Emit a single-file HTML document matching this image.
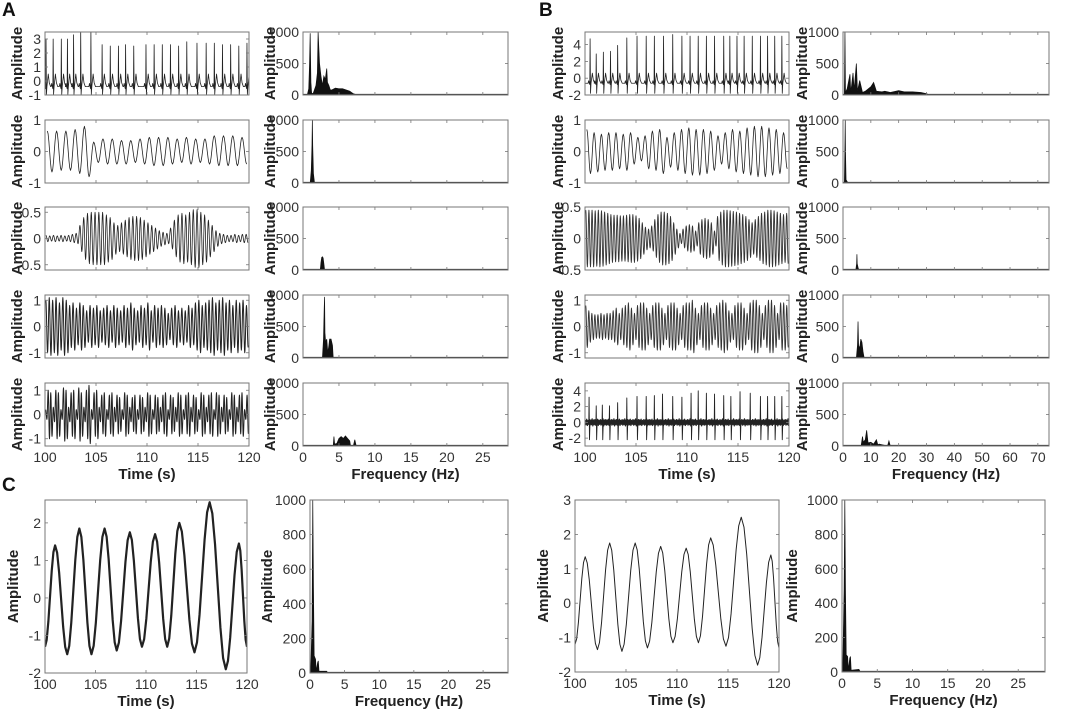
<!DOCTYPE html>
<html><head><meta charset="utf-8"><style>
body{margin:0;background:#fff;}
svg{display:block;font-family:"Liberation Sans",Arial,sans-serif;}
.tk{font-size:14px;fill:#333;}
.yl{font-size:15px;font-weight:bold;fill:#222;}
.xl{font-size:15px;font-weight:bold;fill:#222;}
.pl{font-size:19px;font-weight:bold;fill:#111;}
</style></head><body>
<svg id="fig" width="1065" height="715" viewBox="0 0 1065 715" xmlns="http://www.w3.org/2000/svg">
<text class="pl" x="2" y="16">A</text>
<text class="pl" x="539" y="16">B</text>
<text class="pl" x="2" y="491">C</text>
</svg>
<script>
// ---- data ----
const a1BeatTimes=[100.1,100.8,101.6,102.2,102.8,103.5,104.5,105.6,106.4,107.2,107.9,108.7,109.9,110.7,111.5,112.3,113.1,113.9,114.9,115.8,116.6,117.4,118.2,119.0,119.8];
const a1BeatHeights=[3,3,3,3,3.3,3.5,3.5,2.6,2.5,2.5,2.6,2.5,2.6,2.6,2.6,2.6,2.5,2.8,2.7,2.7,2.7,2.6,2.6,2.5,2.7];
const a2Peaks=[0.65,0.65,0.65,0.7,0.8,0.3,0.4,0.4,0.35,0.35,0.4,0.45,0.45,0.45,0.4,0.45,0.4,0.4,0.5,0.5,0.5,0.45];
const a2Troughs=[-0.65,-0.6,-0.6,-0.7,-0.8,-0.35,-0.4,-0.4,-0.4,-0.35,-0.4,-0.45,-0.45,-0.4,-0.35,-0.4,-0.35,-0.4,-0.45,-0.45,-0.45,-0.4];
const a3Env=[0.06,0.05,0.06,0.05,0.06,0.05,0.06,0.08,0.1,0.25,0.4,0.48,0.5,0.5,0.5,0.5,0.45,0.4,0.3,0.25,0.3,0.35,0.4,0.42,0.42,0.4,0.35,0.3,0.25,0.2,0.15,0.12,0.1,0.2,0.35,0.45,0.48,0.45,0.5,0.55,0.55,0.5,0.45,0.35,0.25,0.15,0.1,0.08,0.06,0.06,0.08,0.06,0.08,0.08];
const a4Env=[1.0,1.1,1.0,1.1,0.9,1.1,1.0,0.8,0.9,0.7,0.9,0.8,0.6,0.8,0.7,0.8,0.6,0.7,0.8,0.6,0.8,0.7,0.6,0.8,0.7,0.9,0.7,0.6,0.8,0.7,0.9,0.6,0.8,0.7,0.8,0.7,0.5,0.7,0.8,0.6,0.7,0.6,0.8,0.7,0.9,1.0,0.8,0.9,1.0,1.1,0.9,1.0,1.1,0.9,1.0,0.8,1.0,0.9,1.0,0.8];
const a5Env=[0.2,1.0,0.9,0.3,1.0,0.9,0.2,1.1,1.0,0.3,0.9,1.0,0.2,1.1,0.9,0.3,1.0,1.2,0.2,0.9,1.0,0.3,0.8,0.9,0.2,0.8,0.9,0.3,0.8,0.7,0.2,0.9,0.8,0.3,0.7,0.8,0.2,0.8,0.7,0.3,0.9,0.8,0.2,0.8,0.7,0.3,0.8,0.9,0.2,0.8,0.7,0.3,0.9,0.8,0.2,0.8,0.9,0.3,0.8,0.7,0.2,0.9,0.8,0.3,0.8,0.9,0.2,0.9,0.8,0.3,0.8,0.7,0.2,0.9,0.8,0.3,0.8,0.9,0.2,0.8];
const b1BeatTimes=[100.5,101.1,101.8,102.5,103.2,104.1,105.1,106.0,106.8,107.7,108.6,109.5,110.3,111.1,111.9,112.7,113.6,114.2,114.9,115.6,116.4,117.2,117.9,118.6,119.3];
const b1BeatHeights=[4.7,2.9,3.1,3.2,3.9,4.8,5,5,5,5,5.2,5,5,5,5,5,5,5,5,5,5,5,5,5,5];
const b2Peaks=[0.7,0.6,0.55,0.6,0.6,0.55,0.6,0.45,0.5,0.65,0.7,0.45,0.6,0.7,0.75,0.7,0.7,0.65,0.5,0.6,0.7,0.65,0.75,0.8,0.8,0.75,0.7,0.6];
const b2Troughs=[-0.7,-0.65,-0.6,-0.6,-0.55,-0.6,-0.4,-0.3,-0.55,-0.6,-0.7,-0.5,-0.6,-0.7,-0.75,-0.75,-0.7,-0.6,-0.4,-0.55,-0.65,-0.7,-0.75,-0.8,-0.8,-0.75,-0.7,-0.55];
const b3Env=[0.45,0.45,0.45,0.44,0.45,0.44,0.42,0.4,0.38,0.37,0.37,0.36,0.36,0.37,0.38,0.38,0.36,0.32,0.25,0.18,0.15,0.2,0.3,0.38,0.42,0.42,0.4,0.35,0.25,0.15,0.08,0.15,0.2,0.22,0.2,0.12,0.25,0.3,0.32,0.3,0.25,0.12,0.35,0.42,0.45,0.45,0.44,0.43,0.42,0.4,0.38,0.35,0.3,0.25,0.3,0.35,0.4,0.42,0.45,0.45,0.44,0.42,0.4,0.38,0.4];
const b4Env=[0.8,0.6,0.5,0.45,0.45,0.5,0.45,0.5,0.5,0.6,0.7,0.5,0.7,0.8,0.9,0.7,0.5,0.8,0.9,0.9,0.7,0.5,0.8,0.9,0.9,0.7,0.5,0.8,0.9,0.9,0.7,0.5,0.8,0.9,0.9,1.0,0.7,0.5,0.8,0.9,0.9,0.7,0.5,0.8,0.9,1.0,0.9,0.6,0.5,0.8,0.9,0.9,0.7,0.5,0.9,1.0,1.0,0.8,0.5,0.8,1.0,1.0,0.8,0.5,0.9,0.9,0.8];
const b5BeatTimes=[100.4,101.1,101.7,102.4,103.2,104.1,105.1,106.0,106.8,107.6,108.6,109.5,110.4,111.1,111.9,112.7,113.6,114.3,115.2,116.2,117.2,117.9,118.6,119.3];
const b5BeatHeights=[3.2,2.1,2.2,2.1,2.5,3.1,3.3,3.3,3.4,3.6,3.3,3.2,3.7,4,3.7,3.6,3.4,3.3,3.9,3.7,3.3,3.3,3.3,3.3];
const b5NoiseAmp=[0.3,0.4,0.25,0.35,0.3,0.45,0.3,0.35];
const c1PeakTimes=[100,101.0,102.2,103.4,104.6,105.9,107.1,108.4,109.6,110.9,112.1,113.3,114.8,116.3,117.9,119.2,120];
const c1Values=[-1.3,1.4,-1.5,1.85,-1.5,1.85,-1.4,1.75,-1.3,1.7,-1.3,2.0,-1.45,2.55,-1.9,1.45,-1.3];
const c3Values=[-1.2,1.35,-1.35,1.75,-1.4,1.75,-1.3,1.65,-1.15,1.6,-1.15,1.9,-1.25,2.5,-1.8,1.4,-1.3];
const a1SpecF=[0.6,0.8,0.9,1.0,1.1,1.2,1.4,1.8,2.0,2.1,2.2,2.3,2.5,2.7,2.9,3.1,3.3,3.4,3.6,3.8,4.0,4.5,5.0,5.5,6.0,6.5,7.0,7.5];
const a1SpecA=[0,100,450,980,200,30,20,150,350,1000,750,500,300,150,300,250,420,200,150,80,80,110,100,100,80,60,20,0];
const a2SpecF=[1.0,1.15,1.25,1.3,1.35,1.45,1.6];
const a2SpecA=[0,200,600,1000,600,150,0];
const a3SpecF=[2.4,2.5,2.6,2.7,2.8,2.9,3.0];
const a3SpecA=[0,120,200,210,190,100,0];
const a4SpecF=[2.7,2.85,2.95,3.0,3.05,3.15,3.3,3.45,3.6,3.7,3.9,4.1,4.2];
const a4SpecA=[0,300,800,970,400,250,300,80,200,300,300,200,0];
const a5SpecF=[4.2,4.3,4.4,4.7,5.0,5.3,5.6,5.9,6.2,6.5,6.6,7.0,7.2,7.4];
const a5SpecA=[0,150,30,40,120,150,120,160,120,80,10,0,100,0];
const b1SpecF=[0.5,0.7,0.9,1.5,2.5,2.8,3.6,4.0,4.8,5.2,6.0,7.0,8.0,10,11,12,14,15,17,20,22,25,28,30,31];
const b1SpecA=[0,1000,40,100,330,40,350,80,500,60,230,40,60,130,200,60,50,60,40,70,50,50,40,20,0];
const b2SpecF=[0.5,0.7,0.8,0.9,1.1,1.5,2.0];
const b2SpecA=[0,600,1000,500,50,20,0];
const b3SpecF=[4.6,4.9,5.0,5.1,5.5,6.0];
const b3SpecA=[0,100,250,100,20,0];
const b4SpecF=[4.8,5.2,5.4,5.6,6.0,6.4,6.8,7.2,7.6];
const b4SpecA=[0,200,580,200,150,300,250,100,0];
const b5SpecF=[6.5,7.0,7.3,8.0,8.5,9.0,10,11,12,12.5,13,16,16.5,17];
const b5SpecA=[0,150,60,100,250,50,60,30,100,20,30,0,80,0];
const c2SpecF=[0.1,0.3,0.4,0.5,0.6,0.8,0.9,1.1,1.2,1.3,2.4,2.6];
const c2SpecA=[0,300,1000,500,100,80,10,60,70,10,10,0];
const c4SpecF=[0.1,0.3,0.4,0.5,0.6,0.8,0.9,1.1,1.2,1.3,2.4,2.6];
const c4SpecA=[0,480,1000,450,100,90,10,80,90,10,15,0];

// ---- drawing ----
const NS="http://www.w3.org/2000/svg";
const svg=document.getElementById('fig');
function el(tag,attrs,parent){const e=document.createElementNS(NS,tag);for(const k in attrs)e.setAttribute(k,attrs[k]);(parent||svg).appendChild(e);return e;}
function makeAxes(p){
  const g=el('g',{});
  
  
  p.sx=v=>p.x0+(v-p.xmin)/(p.xmax-p.xmin)*(p.x1-p.x0);
  p.sy=v=>p.y1-(v-p.ymin)/(p.ymax-p.ymin)*(p.y1-p.y0);
  const cid='c'+p.name;
  const cp=el('clipPath',{id:cid},g);el('rect',{x:p.x0,y:p.y0,width:p.x1-p.x0,height:p.y1-p.y0},cp);
  p.g=el('g',{'clip-path':'url(#'+cid+')'},g);
  const ax=el('g',{},g);
  p.xticks.forEach(t=>{const x=p.sx(t);
    el('line',{x1:x,x2:x,y1:p.y1,y2:p.y1-3,stroke:'#777','stroke-width':0.8},ax);
    el('line',{x1:x,x2:x,y1:p.y0,y2:p.y0+3,stroke:'#777','stroke-width':0.8},ax);
    if(p.xlab){const t2=el('text',{class:'tk',x:x,y:p.y1+16,'text-anchor':'middle'},ax);t2.textContent=t;
      
      }
  });
  p.yticks.forEach(t=>{const y=p.sy(t);
    el('line',{x1:p.x0,x2:p.x0+3,y1:y,y2:y,stroke:'#777','stroke-width':0.8},ax);
    el('line',{x1:p.x1,x2:p.x1-3,y1:y,y2:y,stroke:'#777','stroke-width':0.8},ax);
    const t2=el('text',{class:'tk',x:p.x0-4,y:y+5,'text-anchor':'end'},ax);t2.textContent=t;
    
    
  });
  el('rect',{x:p.x0,y:p.y0,width:p.x1-p.x0,height:p.y1-p.y0,fill:'none',stroke:'#777','stroke-width':1},ax);
  const yc=(p.y0+p.y1)/2;
  const yl=el('text',{class:'yl',x:p.ylx,y:yc,'text-anchor':'middle',transform:`rotate(-90 ${p.ylx} ${yc})`},ax);yl.textContent='Amplitude';
  
  
  if(p.xtitle){const xt=el('text',{class:'xl',x:(p.x0+p.x1)/2,y:p.y1+33,'text-anchor':'middle'},ax);xt.textContent=p.xtitle;
    
    }
  return p;
}
function poly(p,pts,w,name,col){
  const e=el('polyline',{points:pts.map(q=>p.sx(q[0]).toFixed(2)+','+p.sy(q[1]).toFixed(2)).join(' '),fill:'none',stroke:col||'#222','stroke-width':w||0.8,'stroke-linejoin':'round'},p.g);
  
  
}
function cosInterp(ts,vs){const out=[];for(let i=0;i<ts.length-1;i++){for(let k=0;k<6;k++){const u=k/6,w=(1-Math.cos(Math.PI*u))/2;out.push([ts[i]+(ts[i+1]-ts[i])*u,vs[i]+(vs[i+1]-vs[i])*w]);}}out.push([ts[ts.length-1],vs[vs.length-1]]);return out;}
function extremaFromEnv(env,t0,t1){const n=env.length*2;const ts=[],vs=[];for(let i=0;i<n;i++){ts.push(t0+(i+0.5)*(t1-t0)/n);vs.push((i%2?-1:1)*env[i>>1]);}return [ts,vs];}
function extremaPT(pk,tr,t0,t1){const n=pk.length*2;const ts=[],vs=[];for(let i=0;i<n;i++){ts.push(t0+(i+0.5)*(t1-t0)/n);vs.push(i%2?tr[i>>1]:pk[i>>1]);}return [ts,vs];}
function ecg(times,heights,b,low,tw,t0,t1){const pts=[[t0,b]];times.forEach((t,i)=>{const h=heights[i];
  pts.push([t-0.2,b],[t-0.14,b+0.25*tw],[t-0.08,b],[t-0.03,b-0.15],[t,h],[t+0.04,low],[t+0.09,b],[t+0.22,b+tw],[t+0.32,b+0.3*tw],[t+0.45,b]);});pts.push([t1,b]);return pts.filter(q=>q[0]>=t0-0.5&&q[0]<=t1+0.5);}
function spec(p,f,a){const pts=[[f[0],0]];f.forEach((v,i)=>pts.push([v,a[i]]));pts.push([f[f.length-1],0]);
  const e=el('polygon',{points:pts.map(q=>p.sx(q[0]).toFixed(2)+','+p.sy(q[1]).toFixed(2)).join(' '),fill:'#111',stroke:'#111','stroke-width':0.7},p.g);
  
  
  el('line',{x1:p.x0,x2:p.x1,y1:p.y1-0.5,y2:p.y1-0.5,stroke:'#333','stroke-width':1.2},p.g);}

const rowTops=[32,120,207,295,383],H=63;
const tticks=[100,105,110,115,120];
const fA=[0,5,10,15,20,25],fB=[0,10,20,30,40,50,60,70];
const yA=[[-1,0,1,2,3],[-1,0,1],[-0.5,0,0.5],[-1,0,1],[-1,0,1]];
const rA=[[-1,3.5],[-1,1],[-0.6,0.6],[-1.2,1.2],[-1.3,1.3]];
const yB=[[-2,0,2,4],[-1,0,1],[-0.5,0,0.5],[-1,0,1],[-2,0,2,4]];
const rB=[[-2,5.5],[-1,1],[-0.5,0.5],[-1.2,1.2],[-3,5]];
const aSpecs=[[a1SpecF,a1SpecA],[a2SpecF,a2SpecA],[a3SpecF,a3SpecA],[a4SpecF,a4SpecA],[a5SpecF,a5SpecA]];
const bSpecs=[[b1SpecF,b1SpecA],[b2SpecF,b2SpecA],[b3SpecF,b3SpecA],[b4SpecF,b4SpecA],[b5SpecF,b5SpecA]];
for(let r=0;r<5;r++){
  const last=r===4,y0=rowTops[r],y1=y0+H;
  const pa=makeAxes({name:'a-time-'+(r+1),x0:45,x1:249,y0,y1,xmin:100,xmax:120,ymin:rA[r][0],ymax:rA[r][1],xticks:tticks,yticks:yA[r],xlab:last,xtitle:last?'Time (s)':null,ylx:22});
  const ps=makeAxes({name:'a-spectrum-'+(r+1),x0:303,x1:508,y0,y1,xmin:0,xmax:28.5,ymin:0,ymax:1000,xticks:fA,yticks:[0,500,1000],xlab:last,xtitle:last?'Frequency (Hz)':null,ylx:275});
  spec(ps,aSpecs[r][0],aSpecs[r][1]);
  const pb=makeAxes({name:'b-time-'+(r+1),x0:585,x1:789,y0,y1,xmin:100,xmax:120,ymin:rB[r][0],ymax:rB[r][1],xticks:tticks,yticks:yB[r],xlab:last,xtitle:last?'Time (s)':null,ylx:563});
  const pbs=makeAxes({name:'b-spectrum-'+(r+1),x0:843,x1:1049,y0,y1,xmin:0,xmax:74,ymin:0,ymax:1000,xticks:fB,yticks:[0,500,1000],xlab:last,xtitle:last?'Frequency (Hz)':null,ylx:807});
  spec(pbs,bSpecs[r][0],bSpecs[r][1]);
  if(r===0){poly(pa,ecg(a1BeatTimes,a1BeatHeights,-0.4,-0.95,0.9,100,120));poly(pb,ecg(b1BeatTimes,b1BeatHeights,-0.6,-1.8,1.2,100,120));}
  if(r===1){let e=extremaPT(a2Peaks,a2Troughs,100,120);poly(pa,cosInterp(e[0],e[1]));e=extremaPT(b2Peaks,b2Troughs,100,120);poly(pb,cosInterp(e[0],e[1]));}
  if(r===2){let e=extremaFromEnv(a3Env,100,120);poly(pa,cosInterp(e[0],e[1]));e=extremaFromEnv(b3Env,100,120);poly(pb,cosInterp(e[0],e[1]),0.9,null,'#333');}
  if(r===3){let e=extremaFromEnv(a4Env,100,120);poly(pa,cosInterp(e[0],e[1]),1);e=extremaFromEnv(b4Env,100,120);poly(pb,cosInterp(e[0],e[1]),0.9,null,'#333');}
  if(r===4){let e=extremaFromEnv(a5Env,100,120);poly(pa,cosInterp(e[0],e[1]),1);
    const nz=[];for(let i=0;i<150;i++)nz.push(b5NoiseAmp[i%b5NoiseAmp.length]);
    e=extremaFromEnv(nz,100,120);poly(pb,e[0].map((t,i)=>[t,e[1][i]]),1.2);
    poly(pb,ecg(b5BeatTimes,b5BeatHeights,0,-2.2,0.3,100,120),0.9);}
}
const c1=makeAxes({name:'c-time-1',x0:45,x1:247,y0:500,y1:673,xmin:100,xmax:120,ymin:-2,ymax:2.61,xticks:tticks,yticks:[-2,-1,0,1,2],xlab:true,xtitle:'Time (s)',ylx:18});
poly(c1,cosInterp(c1PeakTimes,c1Values),2.2);
const c2=makeAxes({name:'c-spectrum-1',x0:310,x1:508,y0:500,y1:673,xmin:0,xmax:28.6,ymin:0,ymax:1000,xticks:fA,yticks:[0,200,400,600,800,1000],xlab:true,xtitle:'Frequency (Hz)',ylx:272});
spec(c2,c2SpecF,c2SpecA);
const c3=makeAxes({name:'c-time-2',x0:575,x1:779,y0:500,y1:672,xmin:100,xmax:120,ymin:-2,ymax:3,xticks:tticks,yticks:[-2,-1,0,1,2,3],xlab:true,xtitle:'Time (s)',ylx:548});
poly(c3,cosInterp(c1PeakTimes,c3Values),1);
const c4=makeAxes({name:'c-spectrum-2',x0:842,x1:1045,y0:500,y1:672,xmin:0,xmax:28.8,ymin:0,ymax:1000,xticks:fA,yticks:[0,200,400,600,800,1000],xlab:true,xtitle:'Frequency (Hz)',ylx:797});
spec(c4,c4SpecF,c4SpecA);
</script>
</body></html>
